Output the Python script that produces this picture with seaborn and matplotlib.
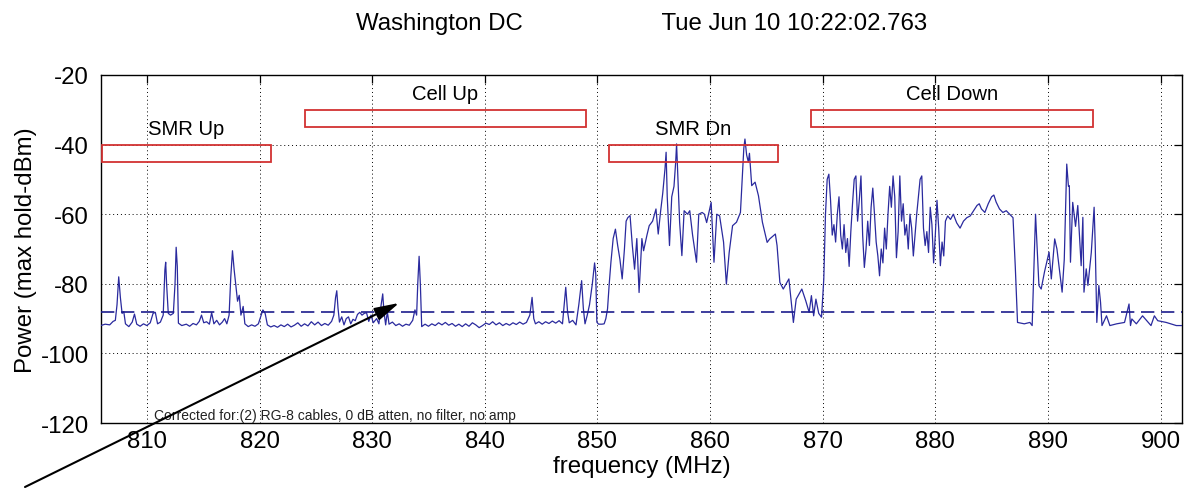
import matplotlib
matplotlib.use("Agg")
import matplotlib.pyplot as plt
import numpy as np
import pandas as pd
import seaborn as sns
from matplotlib.patches import Rectangle

# ---------------- data ----------------
freq_mhz = [
    805.9, 806.3, 806.7, 807.0, 807.2, 807.35, 807.5, 807.65, 807.8, 807.95,
    808.1, 808.4, 808.7, 808.9, 809.1, 809.4, 809.7, 810.0, 810.3, 810.55,
    810.75, 810.95, 811.2, 811.45, 811.6, 811.67, 811.75, 811.9, 812.1, 812.35,
    812.5, 812.6, 812.7, 812.8, 813.1, 813.5, 813.8, 814.1, 814.4, 814.65,
    814.85, 815.05, 815.3, 815.55, 815.75, 815.95, 816.2, 816.45, 816.7, 816.9,
    817.1, 817.3, 817.45, 817.6, 817.75, 817.9, 818.05, 818.2, 818.35, 818.55,
    818.7, 819.0, 819.3, 819.6, 819.9, 820.15, 820.3, 820.5, 820.7, 821.0,
    821.3, 821.6, 821.9, 822.2, 822.5, 822.8, 823.1, 823.4, 823.7, 824.0,
    824.3, 824.6, 824.9, 825.2, 825.5, 825.8, 826.1, 826.4, 826.6, 826.75,
    826.86, 826.97, 827.1, 827.3, 827.5, 827.7, 827.9, 828.1, 828.3, 828.5,
    828.7, 828.9, 829.1, 829.3, 829.5, 829.7, 829.9, 830.1, 830.4, 830.6,
    830.8, 830.94, 831.05, 831.2, 831.35, 831.5, 831.8, 832.1, 832.4, 832.7,
    833.0, 833.3, 833.6, 833.8, 833.95, 834.05, 834.17, 834.28, 834.4, 834.7,
    835.0, 835.3, 835.6, 835.9, 836.2, 836.5, 836.8, 837.1, 837.4, 837.7,
    838.0, 838.3, 838.6, 838.9, 839.2, 839.5, 839.8, 840.1, 840.4, 840.7,
    841.0, 841.3, 841.6, 841.9, 842.2, 842.5, 842.8, 843.1, 843.4, 843.7,
    844.0, 844.2, 844.35, 844.5, 844.8, 845.1, 845.4, 845.7, 846.0, 846.3,
    846.6, 846.9, 847.05, 847.19, 847.35, 847.5, 847.8, 848.1, 848.35, 848.6,
    848.75, 848.9, 849.1, 849.3, 849.55, 849.75, 849.85, 849.95, 850.1, 850.4,
    850.6, 850.75, 850.9, 851.05, 851.2, 851.4, 851.6, 851.8, 852.0, 852.2,
    852.4, 852.55, 852.7, 852.9, 853.1, 853.3, 853.5, 853.7, 853.95, 854.1,
    854.4, 854.6, 854.9, 855.2, 855.4, 855.6, 855.8, 856.0, 856.1, 856.2,
    856.4, 856.6, 856.8, 856.95, 857.03, 857.15, 857.3, 857.5, 857.7, 858.0,
    858.2, 858.45, 858.8, 859.0, 859.3, 859.5, 859.7, 860.1, 860.35, 860.6,
    860.85, 861.2, 861.45, 861.7, 862.0, 862.35, 862.7, 862.85, 863.0, 863.1,
    863.25, 863.4, 863.5, 863.7, 864.0, 864.3, 864.65, 865.07, 865.3, 865.8,
    865.95, 866.2, 866.5, 867.0, 867.4, 867.65, 868.15, 868.5, 868.8, 869.0,
    869.2, 869.4, 869.65, 869.9,
    870.1, 870.25, 870.4, 870.55, 870.7, 870.85, 871.0, 871.15, 871.3, 871.45,
    871.6, 871.75, 871.9, 872.05, 872.2, 872.35, 872.5, 872.65, 872.8, 872.95,
    873.1, 873.25, 873.4, 873.55, 873.7, 873.85, 874.0, 874.15, 874.3, 874.45,
    874.6, 874.75, 874.9, 875.05, 875.2, 875.35, 875.5, 875.65, 875.8, 875.95,
    876.1, 876.25, 876.4, 876.55, 876.7, 876.85, 877.0, 877.15, 877.3, 877.45,
    877.6, 877.75, 877.9, 878.05, 878.2, 878.35, 878.5, 878.65, 878.8, 878.95,
    879.1, 879.25, 879.4, 879.55, 879.7, 879.85, 880.0, 880.15, 880.3, 880.45,
    880.6, 880.75, 880.9, 881.1, 881.35, 881.6, 881.9, 882.2, 882.5, 882.8,
    883.1, 883.4, 883.7, 883.9, 884.1, 884.4, 884.7, 885.0, 885.2, 885.4,
    885.7, 886.0, 886.3, 886.6, 886.9, 887.1, 887.3,
    887.9, 888.4, 888.6, 888.9, 889.2, 889.4,
    889.7, 890.1, 890.3, 890.6, 890.8, 891.26, 891.45, 891.67, 891.82, 891.9,
    892.0, 892.2, 892.45, 892.65, 892.95, 893.1, 893.2, 893.4, 893.55, 893.85,
    894.1, 894.2, 894.34, 894.52, 894.67, 894.8, 895.2, 895.5, 896.1, 896.8,
    897.2, 897.33, 897.45, 897.85, 898.4, 899.15, 899.45, 899.75, 900.5, 901.4,
    901.9,
]
power_dbm = [
    -92.0, -91.6, -91.8, -90.8, -90.5, -86.0, -78.0, -84.0, -88.5, -88.0,
    -91.5, -92.3, -91.0, -88.7, -91.6, -92.2, -91.5, -92.0, -91.2, -88.5,
    -88.2, -91.5, -91.0, -89.0, -76.0, -73.8, -80.0, -88.5, -89.0, -88.5,
    -80.0, -69.5, -75.0, -91.3, -92.0, -91.6, -92.2, -91.4, -91.8, -90.8,
    -89.0, -91.2, -90.9, -91.6, -88.3, -91.5, -90.5, -91.8, -91.0, -90.0,
    -91.5, -89.0, -78.0, -70.5, -76.0, -80.5, -85.0, -83.3, -89.0, -86.5,
    -91.5, -92.3, -91.8, -92.2, -91.5, -89.0, -87.5, -88.5, -91.8, -92.4,
    -92.0, -92.5, -91.8, -92.3, -91.6, -92.4, -91.9, -91.2, -92.2, -91.5,
    -92.1, -90.9, -91.8, -91.0, -92.0, -91.4, -91.9, -90.8, -89.0, -84.0,
    -82.0, -87.0, -91.0, -89.5, -91.8, -90.0, -89.5, -91.5, -90.2, -90.6,
    -88.8, -88.2, -89.0, -88.5, -88.3, -90.8, -89.0, -91.2, -90.0, -91.5,
    -86.0, -82.9, -88.0, -91.8, -88.0, -91.6, -91.0, -92.0, -91.5, -92.2,
    -91.6, -91.9, -90.5, -87.5, -89.0, -80.0, -72.1, -80.0, -92.3, -91.6,
    -92.2, -91.5, -92.0, -91.2, -91.8, -91.1, -91.9, -91.4, -92.2, -91.6,
    -92.3, -91.5, -92.2, -91.2, -91.8, -92.6, -92.0, -91.3, -91.7, -90.9,
    -91.8, -91.2, -92.0, -91.4, -91.9, -91.2, -91.7, -91.0, -91.6, -91.1,
    -89.0, -83.9, -90.0, -91.5, -90.9, -91.6, -90.9, -91.4, -90.7, -91.3,
    -90.6, -91.5, -86.0, -81.0, -88.0, -91.2, -90.5, -91.8, -86.0, -79.1,
    -87.0, -91.5, -89.0, -86.0, -80.0, -74.0, -77.0, -91.0, -91.6, -91.6,
    -91.5, -90.0, -87.2, -80.0, -73.8, -67.0, -64.3, -69.0, -73.0, -78.6,
    -70.0, -62.0, -61.0, -60.4, -69.0, -75.8, -67.0, -82.5, -67.0, -70.5,
    -66.0, -63.3, -62.0, -58.5, -65.7, -59.5, -54.0, -47.0, -42.2, -55.0,
    -69.0, -55.0, -52.0, -45.0, -39.8, -50.0, -62.3, -71.9, -59.0, -60.0,
    -59.0, -66.0, -73.8, -60.0, -59.5, -60.0, -62.4, -56.6, -73.8, -60.0,
    -60.5, -68.0, -80.1, -71.0, -63.3, -62.3, -59.5, -50.0, -41.0, -38.4,
    -43.0, -45.0, -42.5, -51.8, -50.8, -54.7, -62.3, -68.1, -67.1, -65.7,
    -69.0, -79.6, -81.5, -78.6, -91.1, -84.4, -81.5, -84.9, -88.2, -83.4,
    -89.2, -84.4, -88.5, -89.6,
    -78.6, -60.0, -50.0, -48.5, -56.0, -66.0, -63.0, -68.0, -60.0, -55.0,
    -66.0, -70.0, -63.0, -71.0, -67.0, -75.0, -65.0, -57.0, -50.0, -49.0,
    -62.0, -56.0, -49.0, -66.0, -75.3, -70.0, -62.0, -69.0, -58.0, -52.5,
    -60.0, -68.0, -72.0, -77.7, -70.0, -74.0, -64.0, -70.0, -60.0, -52.0,
    -58.0, -49.0, -55.0, -72.5, -65.0, -49.0, -62.0, -57.0, -66.0, -63.0,
    -70.0, -60.0, -64.0, -72.0, -66.0, -60.0, -55.0, -50.0, -49.0, -64.0,
    -69.0, -65.0, -71.0, -58.0, -63.0, -74.0, -66.0, -56.0, -64.0, -74.8,
    -68.0, -72.0, -62.0, -60.5, -61.5, -60.0, -62.5, -64.0, -62.0, -61.0,
    -60.5, -59.0, -57.5, -57.0, -58.5, -59.5, -57.0, -55.0, -54.5, -56.5,
    -58.5, -59.5, -59.0, -60.0, -61.0, -75.0, -91.1,
    -91.5, -91.1, -92.0, -60.0, -80.5, -81.5,
    -76.5, -70.9, -78.6, -67.1, -70.0, -82.4, -73.0, -45.6, -52.0, -51.8,
    -73.8, -56.6, -63.5, -57.5, -74.8, -60.9, -82.4, -75.7, -80.5, -71.0,
    -58.0, -69.0, -91.1, -80.5, -85.3, -92.0, -89.2, -92.0, -91.5, -91.1,
    -85.8, -92.0, -90.1, -91.5, -89.2, -92.0, -89.2, -90.6, -91.1, -92.0,
    -92.0,
]

band_names = ["SMR Up", "Cell Up", "SMR Dn", "Cell Down"]
band_lo_mhz = [806, 824, 851, 869]
band_hi_mhz = [821, 849, 866, 894]
band_low_dbm = [-45, -35, -45, -35]
band_high_dbm = [-40, -30, -40, -30]
threshold_dbm = -88
x_ticks = [810, 820, 830, 840, 850, 860, 870, 880, 890, 900]
y_ticks = [-120, -100, -80, -60, -40, -20]
city = "Washington DC"
timestamp = "Tue Jun 10 10:22:02.763"
note = "Corrected for:(2) RG-8 cables, 0 dB atten, no filter, no amp"

# ---------------- drawing ----------------
sns.set_theme(style="white")
plt.rcParams["font.family"] = ["Liberation Sans", "DejaVu Sans"]
plt.rcParams["text.color"] = "black"
plt.rcParams["axes.labelcolor"] = "black"
plt.rcParams["xtick.color"] = "black"
plt.rcParams["ytick.color"] = "black"

fig = plt.figure(figsize=(11.86, 4.89), dpi=100)
ax = fig.add_axes([0.0849, 0.1329, 0.9117, 0.7117])

df = pd.DataFrame({"freq": freq_mhz, "power": power_dbm})
sns.lineplot(data=df, x="freq", y="power", ax=ax, sort=False, estimator=None,
             color="#2a2a9e", linewidth=0.9, zorder=3)
ax.axhline(threshold_dbm, color="#1c1c8c", linewidth=1.2, dashes=(8, 4), zorder=3)

for name, lo, hi, blo, bhi in zip(band_names, band_lo_mhz, band_hi_mhz,
                                  band_low_dbm, band_high_dbm):
    ax.add_patch(Rectangle((lo, blo), hi - lo, bhi - blo, fill=False,
                           edgecolor="#d23232", linewidth=1.3, zorder=4))
    ax.text((lo + hi) / 2, bhi + 4.6, name, ha="center", va="center",
            fontsize=14.6, color="black", zorder=5)

ax.set_xlim(805.9, 901.9)
ax.set_ylim(-120, -20)
ax.set_xticks(x_ticks)
ax.set_yticks(y_ticks)
ax.set_xticklabels([str(t) for t in x_ticks])
ax.set_yticklabels([str(t) for t in y_ticks])
ax.tick_params(axis="both", which="major", direction="in", length=6, width=0.9,
               top=True, right=True, labelsize=17.3, colors="black")
ax.tick_params(axis="x", pad=5.3)
ax.tick_params(axis="y", pad=8.4)
ax.grid(True, color="black", linestyle=(0, (1, 3)), linewidth=0.7)
ax.set_axisbelow(True)
for sp in ax.spines.values():
    sp.set_color("black")
    sp.set_linewidth(1.0)
    sp.set_visible(True)

ax.set_xlabel("frequency (MHz)", fontsize=17.3, labelpad=2, color="black")
ax.set_ylabel("Power (max hold-dBm)", fontsize=17.3, labelpad=3, color="black")
ax.set_title(city + " " * 21 + timestamp, fontsize=17.3, pad=33, color="black")

ax.text(810.6, -119.6, note, ha="left", va="bottom", fontsize=10, color="#222222",
        zorder=5)

ax.annotate("", xy=(832.4, -85.5), xycoords="data",
            xytext=(25, 1), textcoords="figure pixels",
            arrowprops=dict(arrowstyle="-|>,head_length=1.5,head_width=0.4",
                            color="black", linewidth=1.5, mutation_scale=10,
                            shrinkA=0, shrinkB=0),
            annotation_clip=False, zorder=6)

fig.savefig("out.png", dpi=100, facecolor="white")
